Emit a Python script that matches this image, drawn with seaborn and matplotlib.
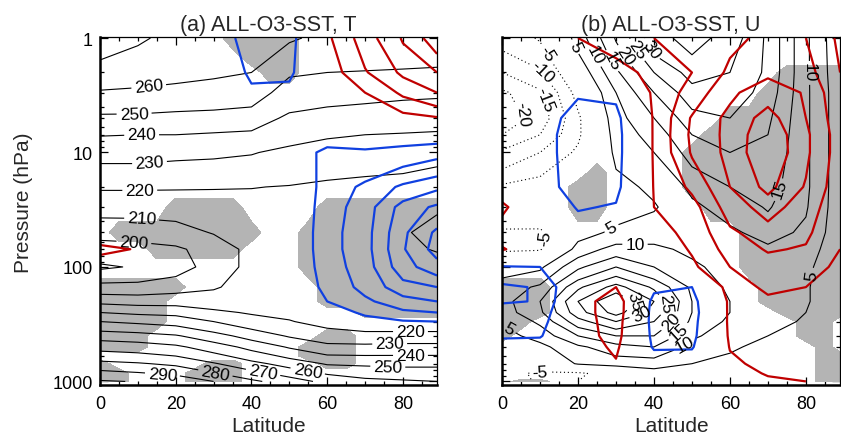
import numpy as np
import matplotlib
matplotlib.use("Agg")
import matplotlib.pyplot as plt
import seaborn as sns
from matplotlib.ticker import MultipleLocator, LogLocator, FuncFormatter, NullFormatter

# ---------------- data ----------------
latitudes = [0, 10, 20, 30, 40, 50, 60, 70, 80, 89]
pressure_levels = [1, 2, 3, 5, 7, 10, 20, 30, 50, 70, 100, 150, 200, 250, 300, 400, 500, 700, 850, 1000]

# (a) temperature climatology (K); one list per latitude, top (1 hPa) -> bottom (1000 hPa)
temp_columns = [
    [275, 266, 259, 248, 240.5, 233, 221, 214, 203, 196, 188.5, 203.5, 217.4, 230, 240, 255.7, 266.4, 282.9, 293.3, 301],
    [271, 265, 258, 248, 240, 233, 221, 214, 203.5, 197, 191, 203.5, 216, 228, 238, 254, 265, 281, 291, 299.5],
    [268, 263, 257, 247, 240, 232, 221, 213, 207, 198, 195.5, 206, 216, 227, 236, 251, 262, 278, 288, 297],
    [266, 261.5, 256, 246.5, 239, 231.5, 220.7, 214, 210.5, 205, 204, 209, 215, 222, 230, 244, 255, 271, 281, 290],
    [264, 260, 254.5, 245.5, 238, 230.5, 220.3, 216, 214, 212.5, 213, 214, 217, 219, 224, 236, 247, 263, 273.5, 282],
    [261, 251, 246, 238, 233, 228, 219.5, 217, 216, 216, 216, 216.5, 217, 218, 220.5, 229, 239, 256, 266, 275],
    [258, 250, 244, 236, 231, 226, 218, 215, 214, 214, 214.5, 215, 215.5, 216, 217, 224, 233, 249, 259, 267],
    [257, 249.5, 243, 235, 230, 225, 217, 214.5, 213, 213.5, 214, 214.5, 215, 215.5, 216, 222, 233, 248, 257, 262],
    [256.5, 249, 242, 234, 229.5, 224.5, 216, 213, 211, 211.5, 213, 214, 214.5, 215, 216, 222, 234, 247, 256, 261],
    [256, 248.5, 241.5, 233.5, 229, 224, 212, 211, 207, 209.5, 213, 214, 214.5, 215, 216, 222, 234, 247, 256, 260],
]
# (a) temperature response (K)
dtemp_columns = [
    [0, 0, 0, 0, 0, 0, 0, 0, 0, 0.7, 0, 0, 0, 0, 0, 0, 0, 0, 0, 0],
    [0, 0, 0, 0, 0, 0, 0, 0, 0, 0.45, 0, 0, 0, 0, 0, 0, 0, 0, 0, 0],
    [0, 0, 0, 0, 0, 0, 0, 0, 0, 0, 0, 0, 0, 0, 0, 0, 0, 0, 0, 0],
    [-0.1, 0, 0, 0, 0, 0, 0, 0, 0, 0, 0, 0, 0, 0, 0, 0, 0, 0, 0, 0],
    [-0.8, -0.6, -0.4, 0, 0, 0, 0, 0, 0, 0, 0, 0, 0, 0, 0, 0, 0, 0, 0, 0],
    [-0.7, -0.6, -0.35, 0, 0, 0, 0, 0, 0, 0, 0, 0, 0, 0, 0, 0, 0, 0, 0, 0],
    [0.4, 0.2, 0.05, 0, -0.1, -0.7, -0.7, -0.75, -0.8, -0.8, -0.75, -0.65, -0.5, -0.2, -0.1, 0, 0, 0, 0, 0],
    [1.25, 0.95, 0.5, 0.1, -0.1, -0.6, -1.1, -1.25, -1.3, -1.3, -1.25, -1.15, -0.9, -0.6, -0.3, 0, 0, 0, 0, 0],
    [2.05, 1.6, 1.1, 0.3, -0.2, -0.7, -1.6, -2.2, -2.4, -2.45, -2.3, -1.8, -1.3, -0.9, -0.45, -0.1, 0, 0, 0, 0],
    [2.8, 2.0, 1.5, 0.45, -0.2, -0.85, -1.9, -2.6, -3.1, -3.2, -2.8, -2.0, -1.5, -1.0, -0.5, -0.1, 0, 0, 0, 0],
]
# (b) zonal wind climatology (m/s)
wind_columns = [
    [-8, -15, -21, -23, -20, -14, -4, 0, -6, -6, 3, 7, 8, 7.5, 5.5, 3, 1, -1, -3, -3],
    [-4.5, -11, -16, -18, -15, -10, -2, 2, -6.5, -5.5, 4, 11, 15, 14, 11, 7, 3.5, 0, -6, -5.5],
    [7, 1, -3, -6, -6, -4, 0, 2.5, 3, 7, 14, 24, 30, 28, 23, 15, 9, 5.5, -6, -5],
    [20.5, 14, 10, 8, 7, 6, 3.5, 3, 6, 12, 20, 32, 40, 37, 30, 20, 13, 7, -2, -2],
    [33, 25, 20, 15, 12, 10, 6, 4.5, 8, 11, 15, 24, 30, 28, 25, 20, 15, 7, 3, 1],
    [37, 32, 28, 23, 20, 17, 11, 9, 8, 9, 11, 14, 15, 15, 14, 11, 8, 5, 4, 2],
    [33, 30, 28, 25, 22, 20, 15, 12, 9, 8, 8, 9, 10, 10, 9, 7, 5.5, 4, 3, 2],
    [24, 24, 23, 21, 20, 19, 17, 15.5, 12, 9, 7, 7, 7, 7, 6.5, 5, 4, 3, 2, 1],
    [11, 11, 11, 11, 11, 11, 11, 10.5, 9, 7.5, 6, 5.5, 5.5, 5, 4.5, 4, 3, 2, 1, 0.5],
    [1, 1.5, 2, 2, 2, 2, 2, 2, 2, 1.5, 1.5, 1.5, 1.5, 1.5, 1, 1, 0.5, 0.5, 0, 0],
]
# (b) zonal wind response (m/s)
dwind_columns = [
    [0, 0, 0, 0, 0, 0, 0.5, 1.2, 0.5, 1.1, -1.1, -2.2, -2.1, -1.5, -1.3, -1.2, -0.3, 0, 0, 0],
    [0.5, 0.3, 0, -0.5, -0.6, -0.6, -0.6, 0, 0, 0.2, -1.0, -1.9, -1.95, -1.6, -1.4, -1.1, -0.4, 0, 0, 0],
    [1.0, 0.5, -0.9, -1.4, -1.5, -1.5, -1.4, -1.1, -0.3, 0, -0.2, 0.2, 0.5, 0.5, 0.5, 0.5, 0.4, 0.2, 0, 0],
    [1.4, 0.6, -0.8, -1.3, -1.4, -1.4, -1.3, -0.9, -0.2, 0, 0.3, 1.0, 1.6, 1.6, 1.5, 1.4, 1.2, 0.9, 0, 0],
    [2.0, 1.3, 1.2, 1.1, 1.1, 1.1, 1.05, 1.0, 0.6, 0.3, 0, -0.8, -1.3, -1.4, -1.4, -1.3, -1.15, -0.2, 0, 0],
    [2.2, 2.0, 2.4, 3.1, 3.2, 3.1, 2.2, 1.6, 1.3, 1.1, 0.8, -1.0, -1.4, -1.5, -1.4, -1.3, -1.1, -0.3, 0, 0],
    [2.8, 3.2, 3.8, 4.3, 4.3, 4.3, 4.0, 3.5, 2.8, 2.4, 2.0, 1.5, 1.2, 1.2, 1.2, 1.15, 1.05, 0.8, 0.5, 0.3],
    [3.2, 3.8, 4.6, 5.4, 5.8, 5.9, 5.3, 4.4, 3.6, 3.1, 2.5, 2.2, 1.8, 1.6, 1.5, 1.4, 1.3, 1.3, 1.1, 0.8],
    [3.0, 3.4, 3.9, 4.0, 4.2, 4.2, 3.9, 3.5, 3.2, 2.9, 2.4, 2.0, 1.7, 1.5, 1.4, 1.3, 1.3, 1.2, 1.2, 1.0],
    [1.8, 2.0, 2.2, 2.4, 2.5, 2.5, 2.4, 2.3, 2.1, 2.0, 1.8, 1.6, 1.4, 1.3, 1.2, 1.2, 1.2, 1.2, 1.1, 1.1],
]

# significance (gray shading) read on a 5-degree grid; '#' = significant
mask_latitudes = [0, 5, 10, 15, 20, 25, 30, 35, 40, 45, 50, 55, 60, 65, 70, 75, 80, 85, 89]
mask_pressures = [1, 1.5, 2, 3, 5, 7, 10, 15, 20, 30, 50, 70, 100, 150, 200, 250, 300, 400, 500, 600, 700, 850, 925, 1000]
signif_T = [
    ".......####........",
    "........###........",
    ".........##........",
    "...................",
    "...................",
    "...................",
    "...................",
    "...................",
    "...................",
    "....####....#######",
    ".########..########",
    "...#####...########",
    "...........########",
    "#####.......#######",
    "####........#######",
    "####..........#####",
    "####...............",
    "###.........##.....",
    "###........###.....",
    "...........###.....",
    "#.....##....##.....",
    "##...###...........",
    "##...###...........",
    "##...###...........",
]
signif_U = [
    "...................",
    "...................",
    "...............####",
    "..............#####",
    "............#######",
    "...........########",
    "..........#########",
    ".....#....#########",
    "....##....#########",
    "....##.....########",
    ".............######",
    ".............######",
    ".............######",
    "###...........#####",
    "###...........#####",
    "###............####",
    "##..............##.",
    "#...............##.",
    ".................#.",
    ".................##",
    ".................##",
    ".................##",
    ".................##",
    ".##..............##",
]

temp_levels = list(range(180, 301, 10))
wind_levels = [-25, -20, -15, -10, -5, 5, 10, 15, 20, 25, 30, 35, 40, 45]
dtemp_neg = [-3, -2.5, -2, -1.5, -1, -0.5]
dtemp_pos = [0.5, 1, 1.5, 2, 2.5, 3]
dwind_neg = [-3, -2, -1]
dwind_pos = [1, 2, 3, 4, 5, 6]

# ---------------- style ----------------
sns.set_theme(style="ticks")
plt.rcParams["font.family"] = ["Liberation Sans", "DejaVu Sans"]
plt.rcParams["axes.unicode_minus"] = False

RED = "#c00000"
BLUE = "#1040e0"
GRAY = "#b4b4b4"
DOTTED = (0, (1, 2.5))
CLABEL_SIZE = 12.5

fig = plt.figure(figsize=(8.41, 4.35), dpi=100)
ax1 = fig.add_axes([0.1189, 0.1126, 0.4007, 0.8])
ax2 = fig.add_axes([0.5970, 0.1126, 0.4019, 0.8])

LAT, P = np.meshgrid(latitudes, pressure_levels)
MLAT, MP = np.meshgrid(mask_latitudes, mask_pressures)


def grid(cols):
    return np.array(cols, dtype=float).T


def mask(rows):
    for r in rows:
        assert len(r) == len(mask_latitudes), r
    return np.array([[1.0 if c == "#" else 0.0 for c in r] for r in rows])


def style_axes(ax, ylabels):
    ax.set_yscale("log")
    ax.set_xlim(0, 89)
    ax.set_ylim(1075, 0.98)
    ax.xaxis.set_major_locator(MultipleLocator(20))
    ax.xaxis.set_minor_locator(MultipleLocator(5))
    ax.yaxis.set_major_locator(LogLocator(base=10))
    ax.yaxis.set_minor_locator(LogLocator(base=10, subs=range(2, 10)))
    ax.yaxis.set_minor_formatter(NullFormatter())
    ax.yaxis.set_major_formatter(FuncFormatter(lambda v, _: f"{v:g}"))
    ax.tick_params(which="both", direction="in", top=True, right=True,
                   bottom=True, left=True, colors="black", width=0.9)
    ax.tick_params(which="major", length=5.5, labelsize=13, pad=5)
    ax.tick_params(which="minor", length=2.6)
    ax.tick_params(axis="x", which="major", pad=7.5)
    if not ylabels:
        ax.tick_params(axis="y", labelleft=False)
    for s in ["left", "bottom"]:
        ax.spines[s].set_linewidth(1.8)
    for s in ["top", "right"]:
        ax.spines[s].set_linewidth(0.9)
    for s in ax.spines.values():
        s.set_color("black")
        s.set_zorder(10)
    ax.set_xlabel("Latitude", fontsize=15, labelpad=2.5)


def snap(ax, cs, lev, pt):
    """Point on the contour of level `lev` closest (in screen space) to pt."""
    i = list(cs.levels).index(lev)
    tr = ax.transData
    target = tr.transform([pt])[0]
    best, bestd = None, np.inf
    for seg in cs.allsegs[i]:
        if len(seg) < 2:
            continue
        d = tr.transform(seg)
        a, b = d[:-1], d[1:]
        ab = b - a
        L = (ab ** 2).sum(1)
        L[L == 0] = 1e-12
        t = np.clip(((target - a) * ab).sum(1) / L, 0, 1)
        proj = a + ab * t[:, None]
        dist = np.hypot(*(proj - target).T)
        k = dist.argmin()
        if dist[k] < bestd:
            bestd, best = dist[k], proj[k]
    if best is None:
        return None
    return tuple(tr.inverted().transform([best])[0])


def label(ax, cs, positions):
    pts = []
    for lev, plist in positions.items():
        if lev not in list(cs.levels):
            continue
        for pt in plist:
            s = snap(ax, cs, lev, pt)
            if s is not None:
                pts.append(s)
    if pts:
        cs.clabel(manual=pts, inline=True, fmt="%d", fontsize=CLABEL_SIZE,
                  inline_spacing=3, colors="black")


# ---------------- panel (a) ----------------
style_axes(ax1, True)
ax1.contourf(MLAT, MP, mask(signif_T), levels=[0.5, 1.5], colors=[GRAY], zorder=1)
cs_t = ax1.contour(LAT, P, grid(temp_columns), levels=temp_levels, colors="black",
                   linewidths=0.8, zorder=3)
ax1.contour(LAT, P, grid(dtemp_columns), levels=dtemp_neg, colors=BLUE, linewidths=1.6,
            linestyles="solid", zorder=4)
ax1.contour(LAT, P, grid(dtemp_columns), levels=dtemp_pos, colors=RED, linewidths=1.6, zorder=4)
style_axes(ax1, True)

t_label_pos = {
    260: [(13, 2.9), (55, 760)],
    250: [(9, 4.4), (76, 760)],
    240: [(11, 7.2), (82, 600)],
    230: [(13, 11.3), (76.5, 450)],
    220: [(10.5, 21), (82, 363)],
    210: [(11, 38)],
    200: [(9, 57)],
    290: [(16.5, 860)],
    280: [(30.6, 800)],
    270: [(43, 860)],
}
label(ax1, cs_t, t_label_pos)
ax1.set_ylabel("Pressure (hPa)", fontsize=15)
ax1.yaxis.set_label_coords(-0.20, 0.526)
ax1.set_title("(a) ALL-O3-SST, T", fontsize=15.5, pad=5)

# ---------------- panel (b) ----------------
style_axes(ax2, False)
ax2.contourf(MLAT, MP, mask(signif_U), levels=[0.5, 1.5], colors=[GRAY], zorder=1)
cs_u = ax2.contour(LAT, P, grid(wind_columns), levels=wind_levels, colors="black",
                   linewidths=0.8,
                   linestyles=[DOTTED if lv < 0 else "solid" for lv in wind_levels],
                   zorder=3)
ax2.contour(LAT, P, grid(dwind_columns), levels=dwind_neg, colors=BLUE, linewidths=1.6,
            linestyles="solid", zorder=4)
ax2.contour(LAT, P, grid(dwind_columns), levels=dwind_pos, colors=RED, linewidths=1.6, zorder=4)
style_axes(ax2, False)

u_label_pos = {
    -5: [(9.5, 1.5), (12, 57), (10, 800)],
    -10: [(12, 1.8)],
    -15: [(15, 3.2)],
    -20: [(9, 3.9)],
    5: [(19, 1.2), (28.7, 45), (2.9, 300), (83.7, 122)],
    10: [(23.7, 1.44), (35, 55), (49, 520), (80, 1.95)],
    15: [(26.8, 1.7), (47.6, 400), (77, 23.5)],
    20: [(30, 1.6), (45.5, 330)],
    25: [(33, 1.44), (44, 213)],
    30: [(37, 1.38), (37, 275)],
    35: [(35.3, 183)],
}
label(ax2, cs_u, u_label_pos)
ax2.set_title("(b) ALL-O3-SST, U", fontsize=15.5, pad=5)

fig.savefig("out.png", dpi=100)
